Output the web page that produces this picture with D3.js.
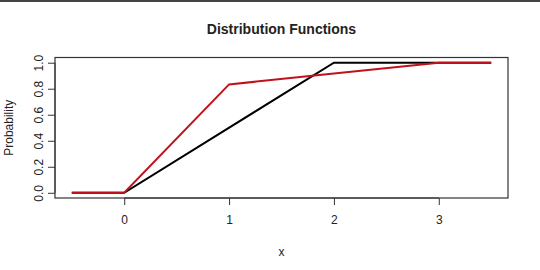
<!DOCTYPE html>
<html>
<head>
<meta charset="utf-8">
<script src="https://cdn.jsdelivr.net/npm/d3@7"></script>
<style>
  body { margin: 0; background: #fff; }
  text { font-family: "Liberation Sans", Arial, sans-serif; fill: #222; }
</style>
</head>
<body>
<div id="chart"></div>
<script>
(function () {

  // empirical-ish cdf (black) and a second cdf (red)
  const blackX = [-0.5, 0, 2, 3, 3.5]
  const blackY = [0, 0, 1, 1, 1]
  const redX = [-0.5, 0, 1, 2, 3, 3.5]
  const redY = [0, 0, 0.833, 0.917, 1, 1]

  const xTicks = [0, 1, 2, 3]
  const yTicks = [0, 0.2, 0.4, 0.6, 0.8, 1.0]

  const margin = { top: 57.5, right: 32, bottom: 72, left: 55 }
  const W = 540, H = 270
  const width = W - margin.left - margin.right
  const height = H - margin.top - margin.bottom

  const root = d3.select("#chart").append("svg")
      .attr("width", W)
      .attr("height", H)

  // thin dark strip at the very top of the screenshot
  root.append("rect")
    .attr("x", 0).attr("y", 0)
    .attr("width", W).attr("height", 2)
    .attr("fill", "#444")

  const svg = root.append("g")
      .attr("transform", "translate(" + margin.left + "," + margin.top + ")")

  // R pads the data range by 4% on each side
  const xPositionScale = d3.scaleLinear()
    .domain([-0.66, 3.66])
    .range([0, width])

  const yPositionScale = d3.scaleLinear()
    .domain([-0.04, 1.04])
    .range([height, 0])

  const line = d3.line()
    .x(d => xPositionScale(d[0]))
    .y(d => yPositionScale(d[1]))

  svg.append("path")
    .datum(blackX.map((x, i) => [x, blackY[i]]))
    .attr("d", line)
    .attr("fill", "none")
    .attr("stroke", "#000")
    .attr("stroke-width", 2)

  svg.append("path")
    .datum(redX.map((x, i) => [x, redY[i]]))
    .attr("d", line)
    .attr("fill", "none")
    .attr("stroke", "#c0121c")
    .attr("stroke-width", 2)

  // box
  svg.append("rect")
    .attr("x", 0).attr("y", 0)
    .attr("width", width).attr("height", height)
    .attr("fill", "none")
    .attr("stroke", "#333")
    .attr("stroke-width", 1.2)

  const xAxis = d3.axisBottom(xPositionScale)
    .tickValues(xTicks)
    .tickFormat(d3.format("d"))
    .tickSize(7)
    .tickPadding(10)
  const xg = svg.append("g")
    .attr("class", "axis x-axis")
    .attr("transform", "translate(0," + height + ")")
    .call(xAxis)
  xg.select(".domain")
    .attr("d", "M" + xPositionScale(0) + ",0H" + xPositionScale(3))
    .attr("stroke", "#333")
  xg.selectAll(".tick line").attr("stroke", "#333")
  xg.selectAll("text")
    .style("font-size", "12px")
    .style("font-family", "Liberation Sans, Arial, sans-serif")
    .attr("fill", "#222")

  const yAxis = d3.axisLeft(yPositionScale)
    .tickValues(yTicks)
    .tickFormat(d3.format(".1f"))
    .tickSize(7)
  const yg = svg.append("g")
    .attr("class", "axis y-axis")
    .call(yAxis)
  yg.select(".domain")
    .attr("d", "M0," + yPositionScale(0) + "V" + yPositionScale(1))
    .attr("stroke", "#333")
  yg.selectAll(".tick line").attr("stroke", "#333")
  // labels run along the axis, like R's default las=0
  yg.selectAll("text")
    .attr("x", null).attr("dy", null)
    .attr("text-anchor", "middle")
    .attr("transform", "translate(-16,0) rotate(-90)")
    .style("font-size", "12px")
    .style("font-family", "Liberation Sans, Arial, sans-serif")
    .attr("fill", "#222")
    .attr("dominant-baseline", "central")

  root.append("text")
    .attr("x", margin.left + width / 2)
    .attr("y", 34)
    .attr("text-anchor", "middle")
    .style("font-size", "14px")
    .style("font-weight", "bold")
    .text("Distribution Functions")

  root.append("text")
    .attr("x", margin.left + width / 2)
    .attr("y", 256)
    .attr("text-anchor", "middle")
    .style("font-size", "12px")
    .text("x")

  root.append("text")
    .attr("transform", "translate(13," + (margin.top + height / 2) + ") rotate(-90)")
    .attr("text-anchor", "middle")
    .style("font-size", "12px")
    .text("Probability")

})();
</script>
</body>
</html>
